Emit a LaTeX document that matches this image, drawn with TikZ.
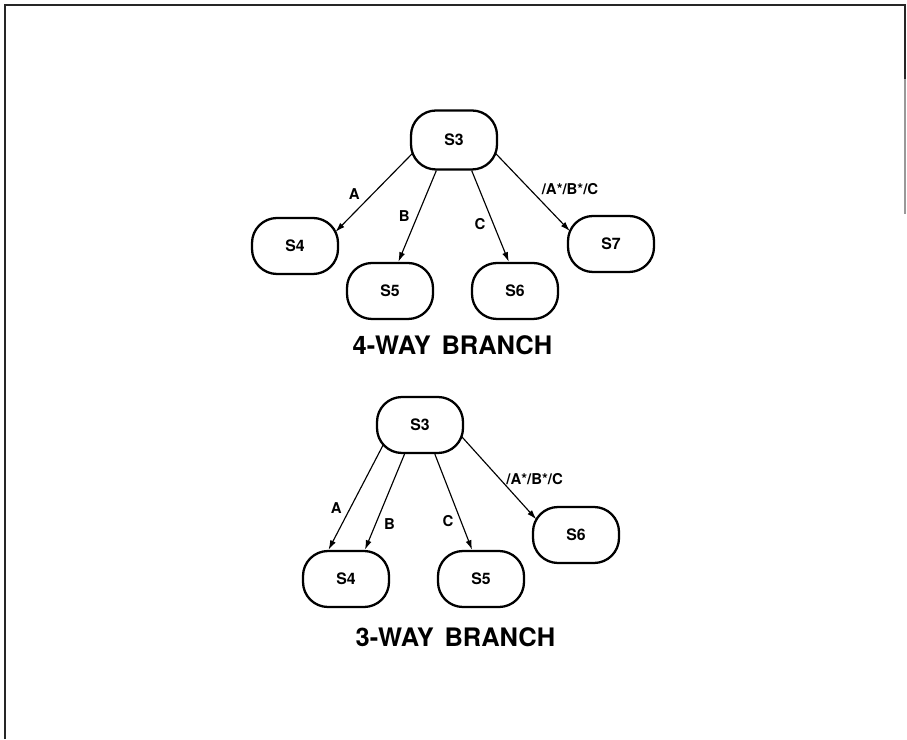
\documentclass[tikz,border=0pt]{standalone}
\usepackage{fontspec}
\setmainfont{TeX Gyre Heros}
\usetikzlibrary{arrows.meta}

\begin{document}
\begin{tikzpicture}[
  font=\bfseries,
  state/.style={draw,line width=1.3pt,rounded corners=.5cm,minimum width=1.72cm,minimum height=1.12cm,inner sep=0pt,font=\bfseries\fontsize{9}{11}\selectfont},
  caption/.style={font=\bfseries\fontsize{14.5}{17}\selectfont},
  to/.style={->,>={Latex[length=5.5pt,width=3.4pt]},line width=.65pt,font=\bfseries\fontsize{8.5}{10}\selectfont},
  frame/.style={line width=1pt,black!85},
  every node/.style={align=center}]

  \useasboundingbox (0,0) rectangle (18.14,14.78);
  \draw[frame] (0.1,0) -- (0.1,14.68) -- (18.1,14.68) -- (18.1,13.2);
  \draw[line width=.8pt,black!40] (18.1,13.2) -- (18.1,10.5);

  % 4-way branch
  \node[state,minimum height=1.18cm] (FS3) at (9.08,11.98) {S3};
  \node[state] (FS4) at (5.90,9.86) {S4};
  \node[state] (FS5) at (7.80,8.96) {S5};
  \node[state] (FS6) at (10.30,8.96) {S6};
  \node[state] (FS7) at (12.22,9.90) {S7};
  \node[caption] (Fcap) at (9.05,7.87) {4-WAY\hspace{.42em}BRANCH};

  % arrows leaving or entering at a rounded corner are stretched onto the curve
  \draw[to,shorten <=-2.2pt,shorten >=-3pt] (FS3.200) -- node[pos=.53,left=3.6pt] {A} (FS4.22);
  \draw[to] (FS3.240) -- node[pos=.5,left=.7pt] {B} (FS5.74);
  \draw[to] (FS3.300) -- node[pos=.59,left=1pt] {C} (FS6.102);
  \draw[to,shorten <=-2.2pt,shorten >=-2.5pt] (FS3.340) -- node[pos=.46,right=3.2pt] {/A*/B*/C} (FS7.160);

  % 3-way branch
  \node[state] (TS3) at (8.40,6.28) {S3};
  \node[state] (TS4) at (6.92,3.20) {S4};
  \node[state] (TS5) at (9.62,3.20) {S5};
  \node[state] (TS6) at (11.52,4.08) {S6};
  \node[caption] (Tcap) at (9.11,2.04) {3-WAY\hspace{.42em}BRANCH};

  \draw[to,shorten <=-6pt] (TS3.215) -- node[pos=.56,left=1.4pt] {A} (TS4.121);
  \draw[to] (TS3.242) -- node[pos=.73,right=1.2pt] {B} (TS4.57);
  \draw[to] (TS3.297) -- node[pos=.7,left=.6pt] {C} (TS5.107);
  \draw[to,shorten <=-2.2pt,shorten >=-3.8pt] (TS3.342) -- node[pos=.53,right=0pt] {/A*/B*/C} (TS6.155);
\end{tikzpicture}
\end{document}
